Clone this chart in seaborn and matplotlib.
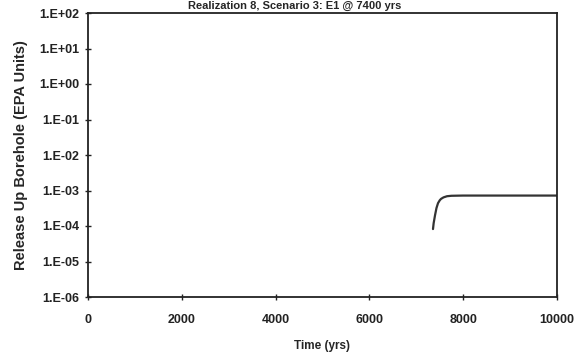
import numpy as np
import pandas as pd
import seaborn as sns
import matplotlib
matplotlib.use("Agg")
import matplotlib.pyplot as plt
from matplotlib.ticker import FixedLocator, NullLocator

# Data
time_yrs = [7356, 7370, 7399, 7430, 7463, 7500, 7527, 7580, 7655, 7750, 8000, 9000, 10000]
release = [8.2e-5, 1.2e-4, 2.0e-4, 3.2e-4, 4.4e-4, 5.3e-4, 5.8e-4, 6.4e-4, 6.9e-4, 7.1e-4, 7.2e-4, 7.2e-4, 7.2e-4]
y_ticks = [1e-6, 1e-5, 1e-4, 1e-3, 1e-2, 1e-1, 1e0, 1e1, 1e2]
y_tick_labels = ["1.E-06", "1.E-05", "1.E-04", "1.E-03", "1.E-02", "1.E-01", "1.E+00", "1.E+01", "1.E+02"]
x_ticks = [0, 2000, 4000, 6000, 8000, 10000]
title = "Realization 8, Scenario 3: E1 @ 7400 yrs"

df = pd.DataFrame({"Time (yrs)": time_yrs, "Release": release})

sns.set_style("ticks")
plt.rcParams["font.family"] = ["Liberation Sans", "DejaVu Sans"]

fig = plt.figure(figsize=(5.79, 3.62), dpi=100)
ax = fig.add_axes([88/579, 1-297/362, (557-88)/579, (297-13)/362])

sns.lineplot(data=df, x="Time (yrs)", y="Release", ax=ax, color="#333333", linewidth=1.6)

ax.set_yscale("log")
ax.set_ylim(1e-6, 1e2)
ax.set_xlim(0, 10000)
ax.yaxis.set_major_locator(FixedLocator(y_ticks))
ax.yaxis.set_minor_locator(NullLocator())
ax.set_yticks(y_ticks)
ax.set_yticklabels(y_tick_labels)
ax.set_xticks(x_ticks)
ax.set_xticklabels([str(v) for v in x_ticks])

for sp in ax.spines.values():
    sp.set_visible(True)
    sp.set_color("#222222")
    sp.set_linewidth(1.3)

ax.tick_params(axis="both", direction="inout", length=5, width=1, labelsize=9, colors="#222222")
ax.tick_params(axis="x", pad=10)
ax.tick_params(axis="y", pad=4)
for lab in ax.get_xticklabels() + ax.get_yticklabels():
    lab.set_fontweight("bold")

ax.set_xlabel("Time (yrs)", fontsize=8.5, fontweight="bold", labelpad=10)
ax.set_ylabel("Release Up Borehole (EPA Units)", fontsize=10.5, fontweight="bold", labelpad=8)

fig.text(295/579, 1-1/362, title, ha="center", va="top", fontsize=8, fontweight="bold")

fig.savefig("out.png", dpi=100)
